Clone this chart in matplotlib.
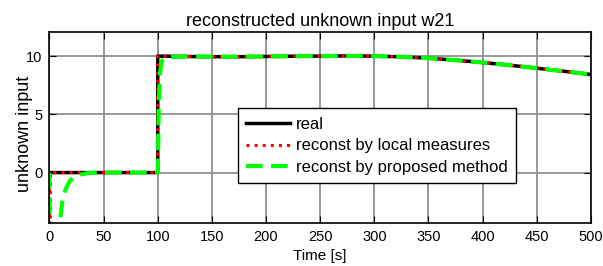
import numpy as np
import matplotlib.pyplot as plt

plt.rcParams['font.family'] = ['Liberation Sans', 'DejaVu Sans']

# Data
t_real = [0, 100, 100.01, 125, 150, 175, 200, 225, 250, 275, 300, 325, 350, 375, 400, 425, 450, 475, 500]
w_real = [0, 0, 10, 9.97, 9.95, 9.95, 9.97, 9.99, 10.0, 10.02, 10.0, 9.94, 9.82, 9.65, 9.45, 9.22, 8.96, 8.7, 8.42]

t_local = [0, 0.01, 1, 100, 100.01, 125, 150, 175, 200, 225, 250, 275, 300, 325, 350, 375, 400, 425, 450, 475, 500]
w_local = [0, -40, 0, 0, 10, 9.97, 9.95, 9.95, 9.97, 9.99, 10.0, 10.02, 10.0, 9.94, 9.82, 9.65, 9.45, 9.22, 8.96, 8.7, 8.42]

t_prop = [0, 0.5, 5, 8, 10, 12, 15, 19, 23, 28, 35, 45, 100, 101, 102, 104, 108, 125, 150, 175, 200, 225, 250,
          275, 300, 325, 350, 375, 400, 425, 450, 475, 500]
w_prop = [0, -30, -12, -6.5, -4.0, -2.4, -1.4, -0.7, -0.4, -0.18, -0.05, 0, 0, 6, 8.5, 9.6, 9.9, 9.97, 9.95,
          9.95, 9.97, 9.99, 10.0, 10.02, 10.0, 9.94, 9.82, 9.65, 9.45, 9.22, 8.96, 8.7, 8.42]

fig = plt.figure(figsize=(6.03, 2.66), dpi=100)
ax = fig.add_axes([0.082, 0.163, 0.898, 0.718])

ax.plot(t_real, w_real, color='black', lw=2.5, label='real')
ax.plot(t_local, w_local, color='red', lw=2.2, ls=':', label='reconst by local measures')
ax.plot(t_prop, w_prop, color=(0, 1, 0), lw=3, ls='--', dashes=(4, 2), label='reconst by proposed method')

ax.set_xlim(0, 500)
ax.set_ylim(-4.3, 12.1)
ax.set_xticks(np.arange(0, 501, 50))
ax.set_yticks([0, 5, 10])
ax.grid(True, color='#909090', lw=1.3)
ax.tick_params(direction='in', top=True, right=True, labelsize=10.5, length=5, pad=5)
for s in ax.spines.values():
    s.set_linewidth(1.2)

ax.set_title('reconstructed unknown input w21', fontsize=13, pad=4)
ax.set_xlabel('Time [s]', fontsize=11, labelpad=4)
ax.set_ylabel('unknown input', fontsize=13)
ax.yaxis.set_label_coords(-0.031, 0.467)

leg = ax.legend(loc='lower left', bbox_to_anchor=(0.348, 0.205), fontsize=12, fancybox=False,
                framealpha=1, edgecolor='black', handlelength=2.6, borderaxespad=0, borderpad=0.5,
                labelspacing=0.4, handletextpad=0.4)
leg.get_frame().set_linewidth(1.0)

fig.savefig('out.png', dpi=100)
